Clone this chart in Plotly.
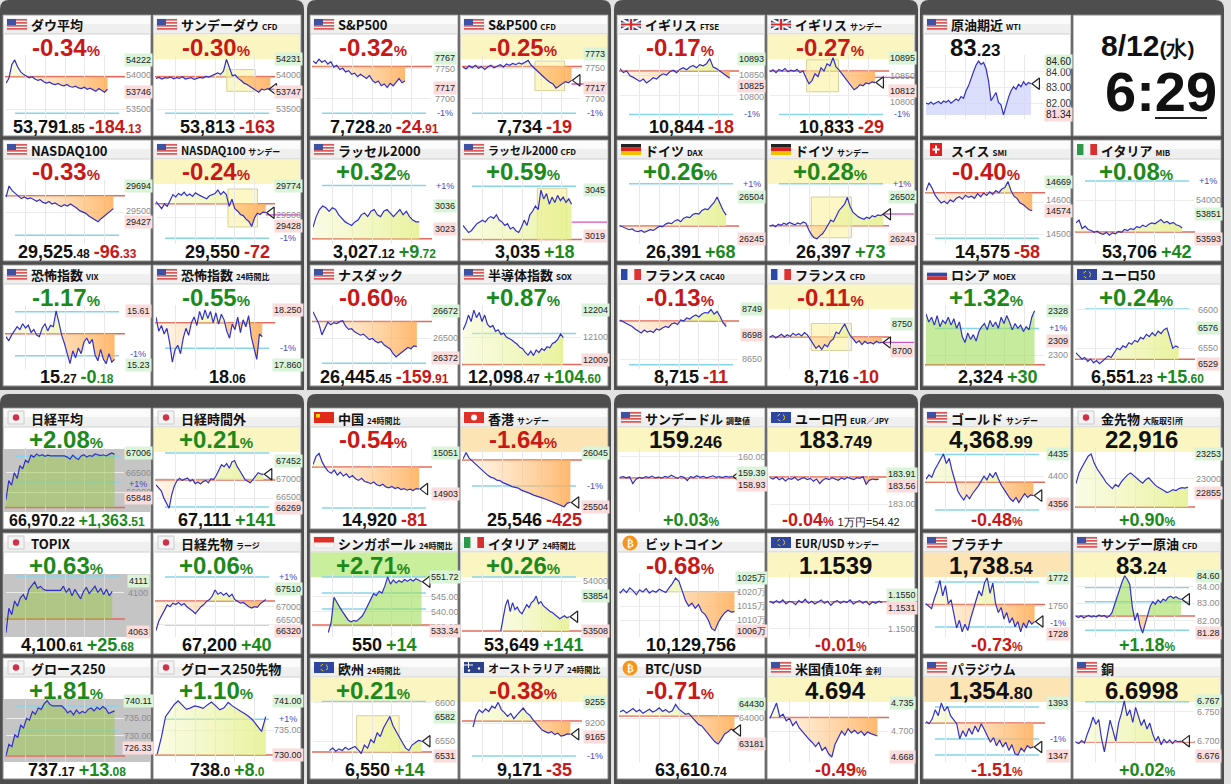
import plotly.graph_objects as go

W, H = 1231, 784

# ---------------- intraday series ----------------
dow = [53880, 53950, 54150, 54222, 54120, 54050, 54010, 53990, 53960, 53975, 53940, 53920, 53935, 53900, 53880, 53895, 53870, 53860, 53875, 53850, 53840, 53860, 53830, 53820, 53835, 53810, 53800, 53820, 53790, 53805, 53780, 53760, 53800, 53770, 53746, 53790]
dow_cfd = [53950, 53965, 53940, 53960, 53955, 53970, 53945, 53960, 53950, 53975, 53940, 53955, 53960, 53935, 53950, 53965, 53955, 53980, 53970, 53990, 54000, 54030, 54010, 54060, 54231, 54100, 53990, 54000, 53950, 53920, 53880, 53860, 53830, 53800, 53770, 53747, 53790, 53780, 53800, 53790]
sp500 = [7762, 7758, 7765, 7760, 7763, 7757, 7761, 7752, 7755, 7748, 7750, 7744, 7746, 7740, 7742, 7736, 7740, 7737, 7733, 7738, 7730, 7726, 7729, 7721, 7724, 7718, 7725, 7721, 7727, 7733, 7726, 7729]
sp500_cfd = [7752, 7749, 7754, 7751, 7755, 7750, 7753, 7748, 7752, 7755, 7751, 7754, 7756, 7752, 7757, 7755, 7758, 7756, 7759, 7757, 7760, 7763, 7755, 7750, 7745, 7740, 7735, 7731, 7727, 7724, 7717, 7721, 7725, 7728, 7726, 7730]
ftse = [10868, 10858, 10862, 10850, 10846, 10840, 10836, 10842, 10832, 10838, 10845, 10842, 10850, 10855, 10852, 10860, 10864, 10858, 10866, 10870, 10865, 10872, 10876, 10870, 10878, 10875, 10880, 10893, 10872, 10868, 10862, 10858, 10852, 10844]
ftse_sun = [10860, 10865, 10858, 10866, 10862, 10868, 10860, 10864, 10861, 10866, 10858, 10862, 10845, 10830, 10838, 10855, 10848, 10870, 10862, 10880, 10875, 10895, 10872, 10865, 10855, 10845, 10838, 10825, 10815, 10820, 10828, 10825, 10832, 10830, 10835, 10833]
wti = [82.05, 82.00, 82.12, 81.98, 82.08, 82.15, 82.02, 82.18, 82.10, 82.22, 82.05, 82.15, 82.30, 82.20, 82.45, 82.35, 82.80, 83.10, 83.60, 83.95, 84.35, 84.60, 84.40, 84.52, 84.15, 83.40, 82.20, 82.50, 82.70, 82.10, 81.95, 81.34, 81.90, 82.40, 82.80, 83.05, 82.90, 83.20, 83.05, 83.35, 83.15, 83.30, 83.23]
ndx = [29610, 29694, 29660, 29640, 29615, 29600, 29612, 29598, 29606, 29590, 29580, 29592, 29572, 29565, 29578, 29560, 29568, 29552, 29540, 29555, 29545, 29560, 29548, 29530, 29510, 29500, 29490, 29470, 29455, 29440, 29427, 29450, 29470, 29490, 29505, 29525]
ndx_sun = [29640, 29610, 29580, 29620, 29600, 29650, 29700, 29680, 29710, 29695, 29720, 29690, 29705, 29685, 29715, 29700, 29690, 29680, 29665, 29690, 29700, 29710, 29740, 29700, 29725, 29700, 29600, 29660, 29580, 29560, 29530, 29520, 29490, 29470, 29428, 29500, 29540, 29530, 29550, 29545]
rut = [3024, 3030, 3034, 3036, 3035, 3033, 3035, 3034, 3031, 3029, 3027, 3026, 3025, 3027, 3028, 3031, 3032, 3030, 3033, 3034, 3031, 3030, 3033, 3034, 3032, 3030, 3032, 3034, 3031, 3033, 3030, 3028, 3027, 3027]
rut_cfd = [3025, 3023, 3021, 3022, 3024, 3026, 3027, 3028, 3027, 3029, 3030, 3029, 3031, 3028, 3027, 3025, 3026, 3023, 3024, 3022, 3021, 3024, 3028, 3025, 3031, 3033, 3036, 3034, 3045, 3040, 3043, 3037, 3041, 3038, 3042, 3039, 3041, 3038, 3040, 3037]
dax = [26325, 26318, 26310, 26300, 26305, 26292, 26288, 26295, 26284, 26290, 26300, 26296, 26310, 26322, 26318, 26335, 26342, 26338, 26355, 26362, 26350, 26372, 26380, 26375, 26395, 26402, 26398, 26420, 26430, 26425, 26448, 26470, 26504, 26460, 26420, 26391]
dax_sun = [26322, 26330, 26318, 26335, 26328, 26340, 26332, 26345, 26338, 26330, 26342, 26335, 26348, 26340, 26300, 26270, 26250, 26243, 26262, 26275, 26300, 26330, 26360, 26350, 26390, 26420, 26440, 26460, 26502, 26445, 26410, 26395, 26380, 26372, 26365, 26378, 26370, 26388, 26380, 26392, 26388, 26397]
smi = [14640, 14665, 14648, 14625, 14612, 14600, 14606, 14598, 14610, 14604, 14615, 14620, 14612, 14625, 14618, 14622, 14615, 14630, 14620, 14632, 14624, 14636, 14628, 14640, 14633, 14645, 14650, 14669, 14640, 14622, 14615, 14600, 14595, 14585, 14578, 14575]
mib = [53760, 53790, 53700, 53725, 53690, 53680, 53660, 53672, 53650, 53640, 53660, 53630, 53655, 53645, 53670, 53660, 53690, 53680, 53700, 53690, 53720, 53710, 53735, 53720, 53745, 53760, 53750, 53770, 53795, 53760, 53775, 53750, 53765, 53740, 53730, 53706]
vix = [15.43, 15.40, 15.44, 15.47, 15.50, 15.48, 15.52, 15.49, 15.51, 15.46, 15.48, 15.44, 15.43, 15.49, 15.52, 15.47, 15.51, 15.50, 15.61, 15.53, 15.44, 15.38, 15.30, 15.24, 15.33, 15.28, 15.35, 15.31, 15.39, 15.42, 15.38, 15.41, 15.30, 15.26, 15.34, 15.27, 15.24, 15.31, 15.25, 15.27]
vix24 = [18.20, 18.10, 18.14, 18.08, 18.12, 18.02, 17.88, 17.97, 18.00, 17.94, 18.05, 18.12, 18.07, 18.16, 18.20, 18.14, 18.24, 18.18, 18.25, 18.19, 18.24, 18.16, 18.23, 18.15, 18.22, 18.18, 18.10, 18.05, 18.15, 18.11, 18.20, 18.09, 18.18, 18.13, 18.21, 18.06, 17.98, 17.90, 18.08, 18.06]
nasdaq = [26667, 26630, 26590, 26520, 26560, 26600, 26585, 26598, 26592, 26604, 26610, 26575, 26555, 26560, 26540, 26530, 26518, 26525, 26505, 26490, 26498, 26480, 26470, 26478, 26455, 26445, 26430, 26400, 26380, 26395, 26410, 26420, 26440, 26432, 26450, 26445]
sox = [12127, 12150, 12185, 12160, 12204, 12175, 12195, 12160, 12185, 12150, 12138, 12145, 12122, 12128, 12110, 12115, 12100, 12095, 12088, 12080, 12072, 12060, 12055, 12040, 12030, 12045, 12028, 12050, 12040, 12055, 12048, 12062, 12058, 12075, 12080, 12092, 12112, 12098]
cac = [8728, 8725, 8722, 8718, 8715, 8710, 8706, 8702, 8708, 8704, 8706, 8703, 8710, 8708, 8712, 8715, 8713, 8720, 8722, 8719, 8728, 8726, 8732, 8730, 8735, 8738, 8734, 8740, 8743, 8742, 8749, 8740, 8745, 8735, 8722, 8715]
cac_cfd = [8726, 8729, 8724, 8728, 8731, 8726, 8730, 8727, 8733, 8729, 8732, 8728, 8734, 8730, 8722, 8712, 8705, 8710, 8703, 8712, 8708, 8718, 8722, 8735, 8732, 8742, 8750, 8738, 8728, 8722, 8715, 8719, 8712, 8718, 8714, 8716, 8713, 8718, 8715, 8716]
moex = [2326, 2321, 2324, 2319, 2325, 2318, 2322, 2320, 2324, 2319, 2323, 2317, 2321, 2312, 2308, 2314, 2310, 2313, 2309, 2315, 2318, 2320, 2316, 2322, 2318, 2321, 2317, 2324, 2320, 2325, 2321, 2316, 2320, 2317, 2319, 2315, 2318, 2316, 2324, 2328]
sx5e = [6544, 6540, 6536, 6538, 6533, 6536, 6531, 6534, 6530, 6533, 6536, 6540, 6538, 6545, 6550, 6548, 6553, 6551, 6557, 6555, 6560, 6558, 6564, 6562, 6568, 6565, 6570, 6566, 6572, 6569, 6574, 6576, 6562, 6550, 6553, 6551]
n225 = [65810, 66300, 66180, 66500, 66350, 66680, 66600, 66820, 66760, 66950, 66900, 66980, 66930, 66960, 66920, 66950, 66930, 66930, 66930, 66930, 66930, 66930, 66900, 66850, 66950, 66880, 66840, 66930, 66960, 66900, 66940, 66920, 66980, 66950, 66940, 66960, 66930, 66970, 67006, 66970]
n225_ext = [66850, 66780, 66700, 66520, 66400, 66269, 66600, 66820, 66950, 67010, 66960, 67000, 67020, 66940, 66980, 66880, 66920, 66870, 66930, 66960, 66900, 67000, 66980, 67080, 67200, 67350, 67300, 67380, 67260, 67420, 67452, 67300, 67200, 67080, 66980, 66940, 66900, 66980, 67060, 67150, 67120, 67111]
china = [15010, 15040, 15051, 15020, 15000, 14985, 14978, 14990, 14972, 14982, 14968, 14976, 14962, 14970, 14958, 14952, 14960, 14948, 14945, 14940, 14946, 14936, 14932, 14938, 14928, 14925, 14930, 14922, 14926, 14918, 14922, 14916, 14920, 14915, 14922, 14920]
hsi = [25980, 26045, 25990, 25960, 25930, 25900, 25870, 25845, 25820, 25800, 25790, 25770, 25765, 25745, 25735, 25720, 25705, 25700, 25690, 25670, 25660, 25645, 25635, 25620, 25612, 25600, 25590, 25578, 25565, 25555, 25545, 25530, 25518, 25504, 25540, 25546]
usdjpy = [159.22, 159.25, 159.20, 159.24, 158.98, 159.15, 159.22, 159.18, 159.25, 159.21, 159.27, 159.20, 159.23, 159.19, 159.26, 159.22, 159.30, 159.24, 159.18, 159.26, 159.22, 159.10, 159.25, 159.21, 159.28, 159.22, 159.26, 159.20, 159.24, 159.28, 159.22, 159.25, 159.21, 159.26, 159.23, 159.25]
eurjpy = [183.80, 183.76, 183.82, 183.74, 183.79, 183.70, 183.78, 183.75, 183.81, 183.72, 183.77, 183.80, 183.74, 183.78, 183.69, 183.76, 183.62, 183.72, 183.78, 183.74, 183.80, 183.76, 183.72, 183.79, 183.75, 183.81, 183.77, 183.74, 183.80, 183.78, 183.83, 183.60, 183.72, 183.76, 183.74, 183.75]
gold = [4395, 4402, 4398, 4410, 4418, 4426, 4435, 4420, 4428, 4408, 4390, 4376, 4368, 4362, 4370, 4364, 4372, 4378, 4384, 4392, 4400, 4394, 4404, 4398, 4406, 4395, 4385, 4378, 4370, 4364, 4360, 4366, 4358, 4365, 4372, 4366, 4370, 4369]
gold_ose = [22950, 23060, 23120, 23180, 23230, 23253, 23160, 23100, 23060, 23010, 22960, 22930, 22900, 22940, 22920, 22970, 23010, 23040, 23060, 23030, 23000, 22980, 22955, 22990, 23010, 22970, 22940, 22915, 22900, 22880, 22860, 22870, 22890, 22880, 22900, 22910, 22905, 22916]
topix = [4062, 4085, 4079, 4092, 4087, 4095, 4098, 4093, 4103, 4107, 4110, 4104, 4106, 4103, 4102, 4102, 4102, 4102, 4102, 4102, 4106, 4100, 4104, 4097, 4103, 4099, 4094, 4101, 4105, 4099, 4102, 4106, 4100, 4104, 4098, 4103, 4097, 4101]
n225_fut = [66330, 66600, 66750, 66900, 67050, 67000, 67100, 67060, 67120, 67040, 67090, 67000, 66950, 66880, 66804, 66900, 67000, 67060, 67150, 67200, 67300, 67468, 67350, 67400, 67320, 67380, 67280, 67350, 67200, 67150, 67100, 67120, 67050, 67000, 66960, 67000, 66980, 67080, 67140, 67200]
sgx = [533.0, 536.5, 544.8, 543.0, 541.5, 540.0, 538.5, 537.2, 536.6, 537.0, 536.8, 537.8, 538.5, 540.2, 542.0, 543.8, 546.0, 545.4, 546.8, 546.2, 548.5, 551.6, 549.2, 550.6, 549.6, 550.4, 549.8, 550.7, 550.1, 550.8, 550.2, 551.0, 550.5, 550.0]
ita24 = [53510, 53620, 53760, 53820, 53700, 53790, 53720, 53745, 53700, 53680, 53730, 53770, 53740, 53790, 53810, 53854, 53780, 53800, 53760, 53740, 53720, 53700, 53690, 53670, 53650, 53630, 53645, 53660, 53640, 53649]
btcjpy = [10195000, 10210000, 10198000, 10215000, 10205000, 10190000, 10208000, 10200000, 10212000, 10196000, 10205000, 10199000, 10210000, 10203000, 10198000, 10215000, 10230000, 10250000, 10238000, 10205000, 10170000, 10150000, 10160000, 10142000, 10155000, 10130000, 10120000, 10100000, 10070000, 10062000, 10090000, 10110000, 10125000, 10135000, 10128000, 10129756]
eurusd = [1.1541, 1.1538, 1.1542, 1.1539, 1.1543, 1.1537, 1.1541, 1.1540, 1.1536, 1.1542, 1.1539, 1.1544, 1.1538, 1.1541, 1.1537, 1.1540, 1.1543, 1.1538, 1.1541, 1.1535, 1.1540, 1.1542, 1.1538, 1.1541, 1.1539, 1.1543, 1.1537, 1.1540, 1.1542, 1.1538, 1.1541, 1.1536, 1.1540, 1.1538, 1.1541, 1.1539]
platinum = [1752, 1750, 1748, 1756, 1762, 1770, 1758, 1766, 1752, 1755, 1744, 1733, 1739, 1730, 1736, 1731, 1740, 1748, 1755, 1762, 1758, 1768, 1772, 1760, 1768, 1752, 1745, 1749, 1740, 1745, 1737, 1741, 1734, 1738, 1730, 1737, 1733, 1739, 1736, 1738]
wti_cfd = [82.25, 82.18, 82.28, 82.15, 82.24, 82.30, 82.20, 82.27, 82.22, 82.33, 82.25, 82.30, 82.18, 82.26, 82.45, 82.90, 83.40, 83.90, 84.25, 84.60, 84.40, 84.10, 82.80, 82.00, 82.45, 81.70, 81.28, 81.80, 82.40, 82.85, 83.10, 82.95, 83.20, 83.05, 83.25, 83.15, 83.35, 83.42, 83.30, 83.38, 83.28, 83.24]
growth = [724.2, 727.5, 726.8, 730.2, 729.5, 733.0, 732.2, 735.0, 734.5, 737.0, 736.2, 738.0, 737.6, 739.2, 740.11, 739.0, 738.6, 738.6, 738.6, 738.6, 737.8, 736.6, 737.2, 736.0, 737.4, 736.4, 737.0, 736.6, 737.6, 738.0, 737.2, 738.2, 737.6, 738.4, 737.8, 736.4, 736.8, 737.17]
growth_fut = [730.2, 733.6, 737.8, 739.0, 740.2, 741.0, 740.2, 739.3, 739.6, 740.0, 739.8, 739.5, 740.2, 740.8, 740.0, 739.2, 739.6, 740.7, 740.0, 739.4, 738.9, 738.4, 737.8, 737.0, 736.0, 734.8, 737.8]
eu24 = [6538, 6541, 6537, 6540, 6538, 6542, 6539, 6541, 6543, 6539, 6534, 6545, 6541, 6552, 6548, 6561, 6556, 6567, 6574, 6582, 6570, 6562, 6556, 6548, 6541, 6538, 6545, 6548, 6551, 6550]
aus24 = [9190, 9222, 9235, 9228, 9238, 9231, 9245, 9240, 9255, 9236, 9228, 9218, 9226, 9212, 9222, 9232, 9240, 9228, 9222, 9210, 9200, 9192, 9182, 9178, 9174, 9178, 9170, 9174, 9166, 9168, 9172, 9171]
btcusd = [64190, 64250, 64160, 64220, 64300, 64200, 64260, 64150, 64220, 64280, 64190, 64240, 64320, 64210, 64260, 64180, 64230, 64430, 64280, 64190, 64120, 64150, 64040, 63900, 63800, 63750, 63620, 63500, 63380, 63250, 63181, 63320, 63500, 63560, 63650, 63610]
us10y = [4.716, 4.726, 4.735, 4.718, 4.721, 4.713, 4.716, 4.707, 4.712, 4.704, 4.699, 4.694, 4.690, 4.686, 4.681, 4.686, 4.676, 4.680, 4.672, 4.668, 4.684, 4.692, 4.700, 4.695, 4.703, 4.698, 4.701, 4.697, 4.700, 4.695, 4.699, 4.697, 4.695, 4.694]
palladium = [1377, 1375, 1379, 1387, 1382, 1393, 1386, 1390, 1382, 1378, 1375, 1362, 1369, 1364, 1371, 1366, 1373, 1368, 1375, 1370, 1364, 1359, 1363, 1356, 1361, 1355, 1359, 1352, 1357, 1349, 1348, 1354, 1351, 1356, 1354, 1355]
copper = [6.698, 6.696, 6.701, 6.697, 6.712, 6.724, 6.740, 6.728, 6.736, 6.704, 6.682, 6.712, 6.735, 6.718, 6.700, 6.730, 6.746, 6.767, 6.742, 6.752, 6.731, 6.756, 6.741, 6.726, 6.736, 6.720, 6.730, 6.712, 6.700, 6.708, 6.694, 6.703, 6.697, 6.702, 6.696, 6.701, 6.699, 6.700]

# clock panel text
clock_date = "8/12"
clock_dow = "(水)"
clock_time = "6:29"

YEL, ORG, GRN = "#fbf5c2", "#fde4b4", "#c9ee9c"


def cell(t, sub, flag, head, foot, s, prev, yr, ticks=(), hi=None, lo=None, pl=(),
         x0=0.0, x1=0.9, hl=None, box=None, mag=None, tri=False, gray=False,
         fill="y", inv=False, dark=False):
    return dict(t=t, sub=sub, flag=flag, head=head, foot=foot, s=s, prev=prev, yr=yr,
                ticks=ticks, hi=hi, lo=lo, pl=pl, x0=x0, x1=x1, hl=hl, box=box, mag=mag,
                tri=tri, gray=gray, fill=fill, inv=inv, dark=dark)


CELLS = [
    # row 1
    cell("ダウ平均", "", "us", "r:-0.34|%", "k:53,791|.85 r:-184|.13", dow, 53976, (53353, 54294),
         ["54000", "53500"], "54222", "53746", [(-1, 0)], x1=0.86),
    cell("サンデーダウ", "CFD", "us", "r:-0.30|%", "k:53,813 r:-163", dow_cfd, 53976, (53353, 54294),
         ["54000", "53500"], "54231", "53747", [(-1, 0)], x1=0.97, hl=YEL,
         box=(0.6, 0.84, 53760, 54080), mag=53790, tri=True),
    cell("S&P500", "", "us", "r:-0.32|%", "k:7,728|.20 r:-24|.91", sp500, 7753.1, (7666, 7772),
         ["7750", "7700"], "7767", "7717", [(-1, 1)], x1=0.78),
    cell("S&P500", "CFD", "us", "r:-0.25|%", "k:7,734 r:-19", sp500_cfd, 7753, (7666, 7772),
         ["7750", "7700"], "7773", "7717", [(-1, 1)], x1=0.92, hl=YEL,
         box=(0.61, 0.86, 7713, 7762), mag=7724, tri=True),
    cell("イギリス", "FTSE", "uk", "r:-0.17|%", "k:10,844 r:-18", ftse, 10862, (10742, 10902),
         ["10850", "10800"], "10893", "10825", [(-1, 1)], x1=0.93),
    cell("イギリス", "サンデー", "uk", "r:-0.27|%", "k:10,833 r:-29", ftse_sun, 10862, (10742, 10902),
         ["10850", "10800"], "10895", "10812", [(-1, 1)], x1=0.89, hl=YEL,
         box=(0.31, 0.58, 10810, 10890), mag=10846, tri=True),
    cell("原油期近", "WTI", "us", "K:83|.23", "", wti, None, (81.09, 84.97),
         ["84.00", "83.00", "82.00"], "84.60", "81.34", [], x1=0.89, tri=True, fill="lav", dark=True),
    None,
    # row 2
    cell("NASDAQ100", "", "us", "r:-0.33|%", "k:29,525|.48 r:-96|.33", ndx, 29621.8, (29261, 29739),
         ["29500"], "29694", "29427", [(-1, 0)], x1=0.91),
    cell("NASDAQ100", "サンデー", "us", "r:-0.24|%", "k:29,550 r:-72", ndx_sun, 29622, (29277, 29825),
         ["29500"], "29774", "29428", [(-1, 1)], x1=0.93, hl=YEL,
         box=(0.61, 0.86, 29423, 29748), mag=29526, tri=True),
    cell("ラッセル2000", "", "us", "g:+0.32|%", "k:3,027|.12 g:+9|.72", rut, 3017.4, (3014.5, 3050.7),
         [], "3036", "3023", [(1, 1)], x1=0.9),
    cell("ラッセル2000", "CFD", "us", "g:+0.59|%", "k:3,035 g:+18", rut_cfd, 3017, (3014.5, 3050.7),
         [], "3045", "3019", [(1, 0)], x1=0.92, box=(0.63, 0.88, 3017.3, 3046), mag=3026.9),
    cell("ドイツ", "DAX", "de", "g:+0.26|%", "k:26,391 g:+68", dax, 26323, (26211, 26610),
         [], "26504", "26245", [(1, 1)], x1=0.9),
    cell("ドイツ", "サンデー", "de", "g:+0.28|%", "k:26,397 g:+73", dax_sun, 26324, (26211, 26610),
         [], "26502", "26243", [(1, 1)], x1=0.96, hl=YEL,
         box=(0.35, 0.69, 26250, 26504), mag=26398, tri=True),
    cell("スイス", "SMI", "ch", "r:-0.40|%", "k:14,575 r:-58", smi, 14633, (14468, 14674),
         ["14600", "14500"], "14669", "14574", [(-1, 0)], x1=0.9),
    cell("イタリア", "MIB", "it", "g:+0.08|%", "k:53,706 g:+42", mib, 53664, (53538, 54210),
         ["54000"], "53851", "53593", [(1, 1)], x1=0.9),
    # row 3
    cell("恐怖指数", "VIX", "us", "g:-1.17|%", "k:15|.27 g:-0|.18", vix, 15.45, (15.202, 15.652),
         [], "15.61", "15.23", [(1, 0), (-1, 1)], x1=0.92, inv=True),
    cell("恐怖指数", "24時間比", "us", "g:-0.55|%", "k:18|.06", vix24, 18.16, (17.832, 18.285),
         [], "18.250", "17.860", [(-1, 1)], x1=0.9, inv=True),
    cell("ナスダック", "", "us", "r:-0.60|%", "k:26,445|.45 r:-159|.91", nasdaq, 26605.4, (26303, 26710),
         ["26500"], "26672", "26372", [(-1, 0)], x1=0.88),
    cell("半導体指数", "SOX", "us", "g:+0.87|%", "k:12,098|.47 g:+104|.60", sox, 11993.9, (11976, 12224),
         ["12100"], "12204", "12009", [(1, 0)], x1=0.85),
    cell("フランス", "CAC40", "fr", "r:-0.13|%", "k:8,715 r:-11", cac, 8726, (8630, 8758),
         ["8650"], "8749", "8698", [(-1, 0)], x1=0.9),
    cell("フランス", "CFD", "fr", "r:-0.11|%", "k:8,716 r:-10", cac_cfd, 8726, (8667, 8785),
         [], "8750", "8700", [], x1=0.95, hl=YEL, box=(0.35, 0.69, 8701, 8751), mag=8716, tri=True),
    cell("ロシア", "MOEX", "ru", "g:+1.32|%", "k:2,324 g:+30", moex, 2294, (2291.3, 2331.7),
         ["2300"], "2328", "2309", [(1, 1)], x1=0.92, fill="g"),
    cell("ユーロ50", "", "eu", "g:+0.24|%", "k:6,551|.23 g:+15|.60", sx5e, 6535.6, (6523, 6606),
         ["6600", "6550"], "6576", "6529", [(1, 0)], x1=0.87),
    # row 4
    cell("日経平均", "", "jp", "g:+2.08|%", "k:66,970|.22 g:+1,363|.51", n225, 65606.7, (65494, 67133),
         ["66500", "66000"], "67006", "65848", [(1, 1), (2, 0)], x1=0.92, gray=True, fill="o"),
    cell("日経時間外", "", "jp", "g:+0.21|%", "k:67,111 g:+141", n225_ext, 66970, (66176, 67764),
         ["67000", "66500"], "67452", "66269", [(1, 0), (-1, 0)], x1=0.91, hl=YEL, tri=True),
    cell("中国", "24時間比", "cn", "r:-0.54|%", "k:14,920 r:-81", china, 15001, (14836, 15071),
         [], "15051", "14903", [(-1, 0)], x1=0.9, tri=True),
    cell("香港", "サンデー", "hk", "r:-1.64|%", "k:25,546 r:-425", hsi, 25971, (25451, 26091),
         [], "26045", "25504", [(-1, 1)], x1=0.91, hl=ORG, tri=True),
    cell("サンデードル", "調整値", "us", "K:159|.246", "g:+0.03|%", usdjpy, 159.198, (157.9, 160.34),
         ["160.00"], "159.39", "158.93", [], x1=0.95, hl=YEL, tri=True),
    cell("ユーロ円", "EUR／JPY", "eu", "K:183|.749", "r:-0.04|% s:1万円=54.42", eurjpy, 183.82, (182.76, 184.70),
         ["183.00"], "183.91", "183.56", [], x1=0.92, hl=YEL),
    cell("ゴールド", "サンデー", "us", "K:4,368|.99", "r:-0.48|%", gold, 4390.1, (4343, 4444.5),
         ["4400"], "4435", "4356", [(1, 0), (-1, 0)], x1=0.91, hl=YEL, tri=True),
    cell("金先物", "大阪取引所", "jp", "K:22,916", "g:+0.90|%", gold_ose, 22712, (22661, 23314),
         ["23000"], "23253", "22855", [], x1=0.95, hl=YEL),
    # row 5
    cell("TOPIX", "", "jp", "g:+0.63|%", "k:4,100|.61 g:+25|.68", topix, 4074.9, (4057.8, 4118.5),
         ["4100"], "4111", "4063", [(1, 0)], x1=0.9, gray=True, fill="o"),
    cell("日経先物", "ラージ", "jp", "g:+0.06|%", "k:67,200 g:+40", n225_fut, 67160, (66152, 67944),
         ["67000", "66500"], "67510", "66320", [(1, 1), (-1, 0)], x1=0.93),
    cell("シンガポール", "24時間比", "sg", "g:+2.71|%", "k:550 g:+14", sgx, 535.5, (531.5, 552.9),
         ["545.00", "540.00", "535.00"], "551.72", "533.34", [(1, 0), (2, 0), (3, 0)],
         x0=0.13, x1=0.92, hl=GRN, tri=True, fill="g"),
    cell("イタリア", "24時間比", "it", "g:+0.26|%", "k:53,649 g:+141", ita24, 53508, (53449, 54083),
         ["54000"], "53854", "53508", [(1, 0)], x0=0.32, x1=0.9, hl=YEL, tri=True),
    cell("ビットコイン", "", "btc", "r:-0.68|%", "k:10,129,756", btcjpy, 10199000, (10039300, 10267850),
         ["1020万", "1015万", "1010万"], "1025万", "1006万", [], x1=0.97),
    cell("EUR/USD", "サンデー", "eu", "K:1.1539", "r:-0.01|%", eurusd, 1.15402, (1.1488, 1.1583),
         ["1.1500"], "1.1550", "1.1531", [], x1=0.95, hl=YEL),
    cell("プラチナ", "", "us", "K:1,738|.54", "r:-0.73|%", platinum, 1751.3, (1726, 1775.8),
         ["1750"], "1772", "1728", [(1, 0), (-1, 1)], x1=0.92, hl=ORG, tri=True),
    cell("サンデー原油", "CFD", "us", "K:83|.24", "g:+1.18|%", wti_cfd, 82.27, (81.05, 84.76),
         ["84.00", "83.00", "82.00"], "84.60", "81.28", [(1, 0), (2, 0), (-1, 0)],
         x1=0.89, hl=YEL, tri=True, fill="g"),
    # row 6
    cell("グロース250", "", "jp", "g:+1.81|%", "k:737|.17 g:+13|.08", growth, 724.09, (722.35, 740.9),
         ["735.00", "730.00"], "740.11", "726.33", [(1, 0), (2, 0)], x1=0.92, gray=True, fill="o"),
    cell("グロース250先物", "", "jp", "g:+1.10|%", "k:738|.0 g:+8|.0", growth_fut, 730.0, (728.6, 741.6),
         ["735.00"], "741.00", "730.00", [(1, 1)], x0=0.01, x1=0.93),
    cell("欧州", "24時間比", "eu", "g:+0.21|%", "k:6,550 g:+14", eu24, 6536, (6523, 6606),
         ["6600", "6550"], "6582", "6531", [(1, 0)], x0=0.14, x1=0.92, hl=YEL,
         box=(0.37, 0.73, 6536, 6583), tri=True),
    cell("オーストラリア", "24時間比", "au", "r:-0.38|%", "k:9,171 r:-35", aus24, 9206, (9098, 9266.5),
         ["9200"], "9255", "9165", [(-1, 1)], x0=0.085, x1=0.91, hl=YEL, tri=True),
    cell("BTC/USD", "", "btc", "r:-0.71|%", "k:63,610|.74", btcusd, 64066, (62614, 64633),
         ["64000"], "64430", "63181", [], x1=0.97, tri=True),
    cell("米国債10年", "金利", "us", "K:4.694", "r:-0.49|%", us10y, 4.717, (4.6618, 4.7412),
         ["4.700"], "4.735", "4.668", [], x1=0.91, hl=YEL),
    cell("パラジウム", "", "us", "K:1,354|.80", "r:-1.51|%", palladium, 1375.6, (1342, 1397.2),
         [], "1393", "1347", [(1, 0), (-1, 1), (-2, 0)], x1=0.91, hl=ORG, tri=True),
    cell("銅", "", "us", "K:6.6998", "g:+0.02|%", copper, 6.6985, (6.6653, 6.7717),
         ["6.750", "6.700"], "6.767", "6.676", [(1, 0)], x1=0.89, hl=YEL, tri=True),
]

COL_X = [3, 153, 310, 460, 617, 767, 923, 1073]
ROW_Y = [15, 140, 265, 408, 533, 658]
CW, CHT = 148, 121
PT, PB = 40, 104          # chart plot area, pixels below the cell top
NUMFONT = "Liberation Sans, Arial, sans-serif"
JPFONT = "Noto Sans CJK JP, sans-serif"
TXT = {"r": "#c81818", "g": "#1b8a1b", "k": "#111111"}


def fx(x):
    return x / W


def fy(y):
    return 1 - y / H


def rect(x0, y0, x1, y1, fill, line=None, lw=0, layer="below"):
    return dict(type="rect", xref="paper", yref="paper", x0=fx(x0), x1=fx(x1), y0=fy(y1), y1=fy(y0),
                fillcolor=fill, line=dict(width=lw, color=line or fill), layer=layer)


def circ(cx, cy, r, fill, line=None, lw=0):
    return dict(type="circle", xref="paper", yref="paper", x0=fx(cx - r), x1=fx(cx + r),
                y0=fy(cy + r), y1=fy(cy - r), fillcolor=fill, line=dict(width=lw, color=line or fill),
                layer="below")


def seg(x0, y0, x1, y1, color, w):
    return dict(type="line", xref="paper", yref="paper", x0=fx(x0), x1=fx(x1), y0=fy(y0), y1=fy(y1),
                line=dict(color=color, width=w), layer="below")


def note(x, y, text, font, xanchor="center", **kw):
    # every annotation is positioned in pixels converted to paper units
    kw.setdefault("borderpad", 0)
    return dict(x=fx(x), y=fy(y), xref="paper", yref="paper", showarrow=False,
                xanchor=xanchor, yanchor="middle", text=text, font=font, **kw)


def val(s):
    if s.endswith("万"):
        return float(s[:-1]) * 10000
    return float(s.replace(",", ""))


def rich(code, big, small):
    parts = []
    for tok in code.split(" "):
        c, body = tok[0], tok[2:]
        if c == "s":
            parts.append("<span style='font-size:11px;color:#222'>%s</span>" % body)
            continue
        a, _, b = body.partition("|")
        col = TXT[c.lower()]
        txt = "<span style='font-size:%dpx;color:%s'><b>%s</b></span>" % (big, col, a)
        if b:
            txt += "<span style='font-size:%dpx;color:%s'><b>%s</b></span>" % (small, col, b)
        parts.append(txt)
    return " ".join(parts)


def flag(kind, L, T):
    x0, y0, x1, y1 = L + 4, T + 4, L + 24, T + 15
    xm, ym = (x0 + x1) / 2, (y0 + y1) / 2
    out = []
    if kind == "us":
        out.append(rect(x0, y0, x1, y1, "#f6f6f6", "#d0d0d0", 0.5))
        for k in range(4):
            out.append(rect(x0, y0 + k * 3, x1, y0 + k * 3 + 1.7, "#d65a5a"))
        out.append(rect(x0, y0, x0 + 9, y0 + 6, "#3f51a3"))
    elif kind == "jp":
        out.append(rect(x0 + 1, y0 - 1, x1 - 3, y1 + 1, "#f3f3f3", "#cccccc", 1))
        out.append(circ(xm - 1, ym, 3.2, "#d2304a"))
    elif kind == "uk":
        out.append(rect(x0, y0, x1, y1, "#2b3f8a"))
        out.append(seg(x0, y0, x1, y1, "#ffffff", 2))
        out.append(seg(x0, y1, x1, y0, "#ffffff", 2))
        out.append(rect(x0, ym - 2, x1, ym + 2, "#ffffff"))
        out.append(rect(xm - 2.5, y0, xm + 2.5, y1, "#ffffff"))
        out.append(rect(x0, ym - 1, x1, ym + 1, "#d22c2c"))
        out.append(rect(xm - 1.2, y0, xm + 1.2, y1, "#d22c2c"))
    elif kind in ("de", "ru"):
        cols = ["#222222", "#dd2222", "#f2c200"] if kind == "de" else ["#f6f6f6", "#2a4ab0", "#d83030"]
        h = (y1 - y0) / 3
        for i, c in enumerate(cols):
            out.append(rect(x0, y0 + i * h, x1, y0 + (i + 1) * h, c))
    elif kind in ("fr", "it"):
        cols = ["#2a4aa8", "#f6f6f6", "#e03030"] if kind == "fr" else ["#2a9a4a", "#f6f6f6", "#d83030"]
        w = (x1 - x0) / 3
        for i, c in enumerate(cols):
            out.append(rect(x0 + i * w, y0, x0 + (i + 1) * w, y1, c))
    elif kind == "ch":
        out.append(rect(x0 + 3, y0 - 1, x0 + 15, y1 + 1, "#e02020"))
        out.append(rect(x0 + 8, y0 + 1.5, x0 + 10, y1 - 1.5, "#ffffff"))
        out.append(rect(x0 + 5.5, ym - 1, x0 + 12.5, ym + 1, "#ffffff"))
    elif kind == "eu":
        out.append(rect(x0, y0, x1, y1, "#2d44a0"))
        ring = circ(xm, ym, 3.5, "rgba(0,0,0,0)")
        ring["line"] = dict(color="#f2d200", width=1, dash="dot")
        out.append(ring)
    elif kind == "cn":
        out.append(rect(x0, y0, x1, y1, "#e02a1a"))
        out.append(rect(x0 + 2, y0 + 2, x0 + 6, y0 + 5.5, "#ffd800"))
    elif kind == "hk":
        out.append(rect(x0, y0, x1, y1, "#e0302a"))
        out.append(circ(xm, ym, 3, "#ffffff"))
    elif kind == "sg":
        out.append(rect(x0, y0, x1, y1, "#f6f6f6", "#d0d0d0", 0.5))
        out.append(rect(x0, y0, x1, ym, "#e0302a"))
    elif kind == "au":
        out.append(rect(x0, y0, x1, y1, "#2b3f8a"))
        out.append(rect(x0, y0 + 2.5, x0 + 9, y0 + 3.5, "#ffffff"))
        out.append(rect(x0 + 4, y0, x0 + 5, y0 + 6, "#ffffff"))
        out.append(circ(x1 - 5, ym + 1, 1.2, "#ffffff"))
        out.append(circ(x0 + 5, y1 - 2.5, 1.2, "#ffffff"))
    elif kind == "btc":
        out.append(circ(L + 13, T + 10, 7.5, "#f7931a"))
    return out


def spread(fixed, loose, gap=11.0, top=0.0, bottom=1e9, reach=16.0):
    # push the light labels clear of the value pills (and of each other),
    # but never further than `reach` pixels from where their value sits
    placed = list(fixed)
    out = []
    for yv, item in sorted(loose, key=lambda p: p[0]):
        best = yv
        for cand in sorted([yv] + [p + d for p in placed for d in (gap, -gap)], key=lambda q: abs(q - yv)):
            if abs(cand - yv) > reach:
                break
            if top <= cand <= bottom and all(abs(cand - p) >= gap - 0.01 for p in placed):
                best = cand
                break
        placed.append(best)
        out.append((best, item))
    return out


fig = go.Figure()
shapes, annos, axes = [], [], {}

# dark group panels on the light background
for gx in [0, 307, 614, 920]:
    for y0, y1 in [(0, 390), (394, 784)]:
        x1, r = gx + 304, 9
        path = "M %f,%f L %f,%f Q %f,%f %f,%f L %f,%f Q %f,%f %f,%f L %f,%f Z" % (
            fx(gx), fy(y1), fx(gx), fy(y0 + r), fx(gx), fy(y0), fx(gx + r), fy(y0),
            fx(x1 - r), fy(y0), fx(x1), fy(y0), fx(x1), fy(y0 + r), fx(x1), fy(y1))
        shapes.append(dict(type="path", xref="paper", yref="paper", path=path,
                           fillcolor="#4e4e4e", line=dict(width=0), layer="below"))

k = 0
for idx, c in enumerate(CELLS):
    r, col = divmod(idx, 8)
    L, T = COL_X[col], ROW_Y[r]
    shapes.append(rect(L, T, L + CW, T + CHT, "#ffffff", "#8a8a8a", 1))
    if c is None:
        # clock panel
        annos.append(note(L + 74, T + 30,
                          "<b>%s</b><span style='font-size:21px'><b>%s</b></span>" % (clock_date, clock_dow),
                          dict(family=NUMFONT, size=30, color="#111")))
        annos.append(note(L + 88, T + 77, "<b>%s</b>" % clock_time,
                          dict(family=NUMFONT, size=56, color="#111")))
        shapes.append(seg(L + 82, T + 103, L + 134, T + 103, "#222", 2))
        continue

    k += 1
    ax = "" if k == 1 else str(k)
    xr, yr_ = "x" + ax, "y" + ax
    lo_v, hi_v = c["yr"]

    def ypix(v):
        return T + PB - (v - lo_v) / (hi_v - lo_v) * (PB - PT)

    # title bar
    shapes.append(rect(L + 0.5, T + 0.5, L + CW - 0.5, T + 19, "#efefef", "#cfcfcf", 1))
    shapes.append(rect(L + 1, T + 1, L + CW - 1, T + 9, "#fbfbfb"))
    if c["hl"]:
        shapes.append(rect(L + 1, T + 19.5, L + CW - 1, T + 44, c["hl"]))
    if c["gray"]:
        shapes.append(rect(L + 1, T + 41, L + CW - 1, T + 104, "#c5c5c5"))
    shapes.extend(flag(c["flag"], L, T))
    if c["flag"] == "btc":
        annos.append(note(L + 13, T + 10, "<b>₿</b>", dict(family="DejaVu Sans", size=10, color="#ffffff")))

    tsize = 11 if len(c["t"]) > 6 and c["sub"] else 13
    ttxt = "<b>%s</b>" % c["t"]
    if c["sub"]:
        ttxt += " <span style='font-size:8px'><b>%s</b></span>" % c["sub"]
    annos.append(note(L + 27, T + 10, ttxt, dict(family=JPFONT, size=tsize, color="#111"), xanchor="left"))

    # headline and footer numbers
    if c["head"].startswith("K"):
        hx = L + 52 if c["fill"] == "lav" else L + 68
        htxt = rich(c["head"], 24, 17)
    else:
        hx = L + 63
        htxt = rich(c["head"], 24, 15)
    annos.append(note(hx, T + 32, htxt, dict(family=NUMFONT, size=18)))
    if c["foot"]:
        big = 16 if len(c["foot"]) > 24 else 18
        annos.append(note(L + 74, T + 112, rich(c["foot"], big, 12), dict(family=NUMFONT, size=14)))

    # axes for the mini chart
    s = c["s"]
    n = len(s)
    xs = [c["x0"] + (c["x1"] - c["x0"]) * i / (n - 1) for i in range(n)]
    tick_vals = [val(t) for t in c["ticks"]]
    axes["xaxis" + ax] = dict(domain=[fx(L + 3), fx(L + 121)], range=[0, 1], anchor=yr_,
                              tickvals=[i / 6 for i in range(7)], showgrid=True,
                              gridcolor="#d9d9d9" if c["gray"] else "#e8e8e8",
                              showticklabels=False, zeroline=False, showline=False, ticks="",
                              fixedrange=True)
    axes["yaxis" + ax] = dict(domain=[fy(T + PB), fy(T + PT)], range=[lo_v, hi_v], anchor=xr,
                              tickvals=tick_vals, showgrid=True, gridcolor="#ececec",
                              showticklabels=False, zeroline=False, showline=False, ticks="",
                              fixedrange=True)

    prev = c["prev"]
    if c["box"]:
        bx0, bx1, by0, by1 = c["box"]
        shapes.append(dict(type="rect", xref=xr, yref=yr_, x0=bx0, x1=bx1, y0=by0, y1=by1,
                           fillcolor="rgba(252,240,150,0.55)", line=dict(color="#d6cf9c", width=1),
                           layer="below"))

    common = dict(xaxis=xr, yaxis=yr_, hoverinfo="skip", showlegend=False, mode="lines")
    if c["fill"] == "lav":
        base = val(c["lo"])
        fig.add_trace(go.Scatter(x=xs, y=[base] * n, line=dict(width=0), **common))
        fig.add_trace(go.Scatter(x=xs, y=s, fill="tonexty", fillcolor="rgba(208,212,250,0.75)",
                                 line=dict(width=0), **common))
    else:
        up = [max(v, prev) for v in s]
        dn = [min(v, prev) for v in s]
        if c["fill"] == "g":
            pos = dict(fillcolor="rgba(160,222,90,0.6)")
        elif c["fill"] == "o":
            pos = dict(fillcolor="rgba(150,200,60,0.45)")
        else:
            pos = dict(fillgradient=dict(type="horizontal", colorscale=[[0, "rgba(240,245,175,0.35)"],
                                                                         [1, "rgba(228,240,140,0.85)"]]))
        neg = dict(fillgradient=dict(type="horizontal", colorscale=[[0, "rgba(255,215,165,0.25)"],
                                                                     [1, "rgba(255,172,85,0.85)"]]))
        fig.add_trace(go.Scatter(x=xs, y=[prev] * n, line=dict(width=0), **common))
        fig.add_trace(go.Scatter(x=xs, y=up, fill="tonexty", line=dict(width=0), **pos, **common))
        fig.add_trace(go.Scatter(x=xs, y=[prev] * n, line=dict(width=0), **common))
        fig.add_trace(go.Scatter(x=xs, y=dn, fill="tonexty", line=dict(width=0), **neg, **common))

    # previous close, +/- percent guides, magenta last-price guide
    loose = []
    tcol = "#333333" if c["dark"] else "#8c8c8c"
    fsz = 10 if c["dark"] else 9
    if prev is not None:
        shapes.append(dict(type="line", xref="paper", yref=yr_, x0=fx(L + 2), x1=fx(L + 122), y0=prev, y1=prev,
                           line=dict(color="#e06a5e", width=1.5), layer="below"))
        for p, lab in c["pl"]:
            yv = prev * (1 + p / 100)
            shapes.append(dict(type="line", xref="paper", yref=yr_, x0=fx(L + 12), x1=fx(L + 116), y0=yv, y1=yv,
                               line=dict(color="#86d3ea", width=1.5), layer="below"))
            if lab:
                loose.append((ypix(yv), ("%+d%%" % p, "#4848c0")))
    if c["mag"] is not None:
        shapes.append(dict(type="line", xref="paper", yref=yr_, x0=fx(L + 3 + 118 * c["x1"]), x1=fx(L + CW - 1),
                           y0=c["mag"], y1=c["mag"], line=dict(color="#cc55cc", width=1.3), layer="below"))

    fig.add_trace(go.Scatter(x=xs, y=s, line=dict(color="#3131c9", width=1.2), **common))
    if c["tri"]:
        fig.add_trace(go.Scatter(x=[min(c["x1"] + 0.05, 1.0)], y=[s[-1]], mode="markers", cliponaxis=False,
                                 marker=dict(symbol="triangle-left-open", size=10, color="#222",
                                             line=dict(width=1.2, color="#222")),
                                 xaxis=xr, yaxis=yr_, hoverinfo="skip", showlegend=False))

    # right-hand value labels: light text first, coloured pills for high / low drawn on top
    hib, lob = ("#fadcdc", "#d9f4d9") if c["inv"] else ("#d9f4d9", "#fadcdc")
    pills = [(ypix(val(c["hi"])), c["hi"], hib), (ypix(val(c["lo"])), c["lo"], lob)]
    for t, v in zip(c["ticks"], tick_vals):
        loose.append((ypix(v), (t, tcol)))
    for yp, (t, colr) in spread([p[0] for p in pills], loose, top=T + 24, bottom=T + 106):
        annos.append(note(L + 135, yp, t, dict(family=NUMFONT, size=fsz, color=colr)))
    for yp, t, bg in pills:
        annos.append(note(L + 135, yp, t, dict(family=NUMFONT, size=fsz, color="#222"),
                          bgcolor=bg, borderpad=1))

fig.update_layout(width=W, height=H, margin=dict(l=0, r=0, t=0, b=0), paper_bgcolor="#e2e2e2",
                  plot_bgcolor="rgba(0,0,0,0)", showlegend=False, hovermode=False,
                  shapes=shapes, annotations=annos, **axes)
fig.write_html("out.html", config={"displayModeBar": False},
               post_script="document.body.style.margin='0';document.body.style.overflow='hidden';")
